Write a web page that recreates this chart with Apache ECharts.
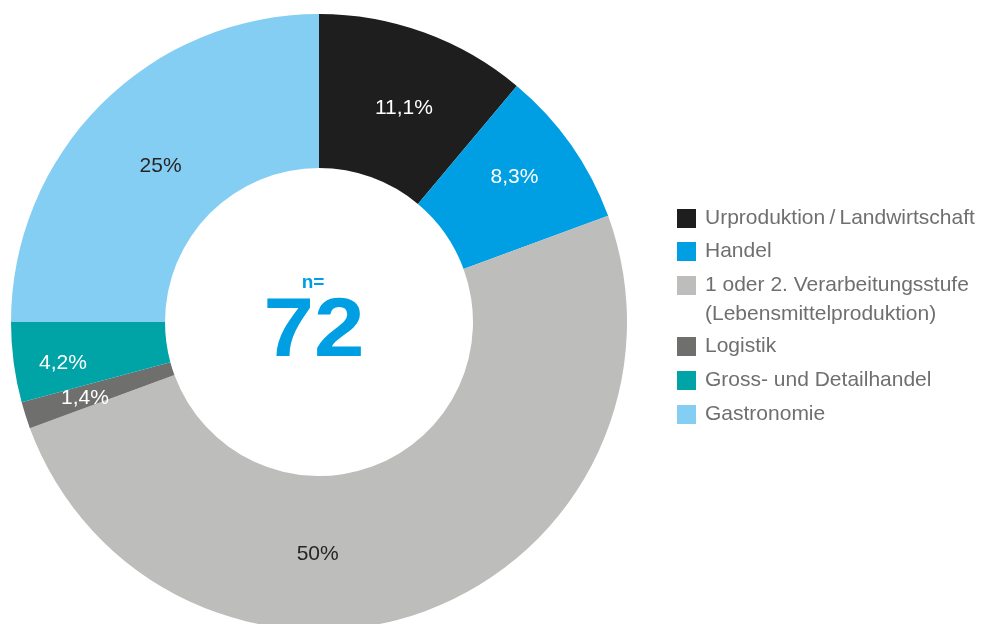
<!DOCTYPE html>
<html><head><meta charset="utf-8">
<script src="https://cdn.jsdelivr.net/npm/echarts@6/dist/echarts.min.js"></script>
<style>html,body{margin:0;padding:0;background:#fff}#c{width:985px;height:624px}</style>
</head><body><div id="c"></div>
<script>
const categories = ['Urproduktion\u2009/\u2009Landwirtschaft', 'Handel', '1 oder 2. Verarbeitungsstufe\n(Lebensmittelproduktion)', 'Logistik', 'Gross- und Detailhandel', 'Gastronomie'];
const values = [11.1, 8.3, 50, 1.4, 4.2, 25];
const colors = ['#1e1e1e', '#009fe3', '#bdbdbc', '#6f6f6e', '#00a3a6', '#84cef3'];
const labelColors = ['#ffffff', '#ffffff', '#262626', '#ffffff', '#ffffff', '#262626'];
const labelOffsets = [[5, 6], [4, -10], [-82, 13], [-11, 5], [-24, 10], [7, 10]];
const sampleSize = 72;

const legendText = { fontFamily: 'Liberation Sans', fontSize: 21, color: '#6f6f6e', lineHeight: 19, padding: [0, 0, 0, 4] };
const legendBase = { orient: 'vertical', left: 677, padding: 0, itemWidth: 19, itemHeight: 19, itemGap: 13, icon: 'rect' };

const chart = echarts.init(document.getElementById('c'));
chart.setOption({
  animation: false,
  legend: [
    Object.assign({}, legendBase, { top: 208, itemGap: 12, textStyle: legendText, data: categories.slice(0, 2) }),
    Object.assign({}, legendBase, {
      top: 271, itemHeight: 48,
      icon: 'path://M0,0H19V19H0ZM0,48L0.01,48',
      textStyle: Object.assign({}, legendText, { lineHeight: 29 }),
      data: categories.slice(2, 3)
    }),
    Object.assign({}, legendBase, { top: 336, itemGap: 13, textStyle: legendText, data: categories.slice(3) })
  ],
  graphic: [
    { type: 'text', x: 313, y: 283, style: { text: 'n=', fill: '#009fe3', font: 'bold 19px "Liberation Sans"', textAlign: 'center', textVerticalAlign: 'middle' } },
    { type: 'text', x: 314, y: 333, scaleX: 1.08, style: { text: String(sampleSize), fill: '#009fe3', font: 'bold 84px "Liberation Sans"', textAlign: 'center', textVerticalAlign: 'middle' } }
  ],
  series: [{
    type: 'pie', center: [319, 322], radius: [154, 308], startAngle: 90, clockwise: true,
    avoidLabelOverlap: false,
    label: {
      show: true, position: 'inside', fontFamily: 'Liberation Sans', fontSize: 21,
      formatter: p => String(p.value).replace('.', ',') + '%'
    },
    labelLine: { show: false },
    emphasis: { disabled: true },
    data: categories.map((n, i) => ({
      name: n, value: values[i],
      itemStyle: { color: colors[i] },
      label: { color: labelColors[i], offset: labelOffsets[i] }
    }))
  }]
});
</script></body></html>
